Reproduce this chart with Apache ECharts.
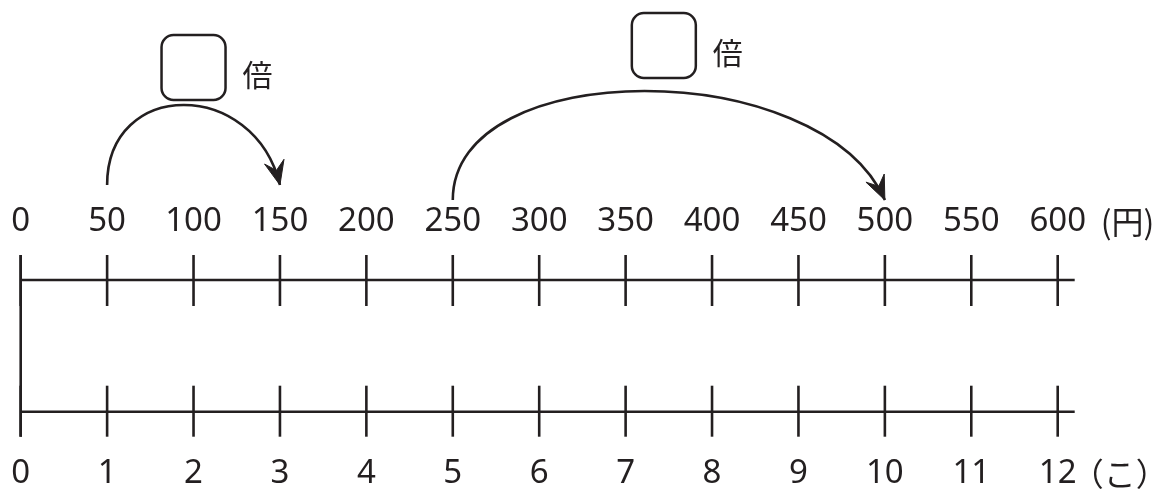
<!DOCTYPE html>
<html><head><meta charset="utf-8">
<script src="https://cdn.jsdelivr.net/npm/echarts@6/dist/echarts.min.js"></script>
<style>html,body{margin:0;padding:0;background:#fff}#c{width:1163px;height:489px}</style>
</head><body><div id="c"></div>
<script>
// ---- data ----
const countTicks = [0,1,2,3,4,5,6,7,8,9,10,11,12];
const yenLabels = ['0','50','100','150','200','250','300','350','400','450','500','550','600'];
const countLabels = ['0','1','2','3','4','5','6','7','8','9','10','11','12'];
const yenUnit = '(円)';
const countUnit = '（こ）';
const arrowFrom = [1, 5];
const arrowTo = [3, 10];
const boxSuffix = '倍';

// ---- style / layout ----
const ink = '#231f20';
const lw = 2.6;
const numFont = '33px "Noto Sans", sans-serif';
const cjkFont = '30px "Noto Sans CJK JP", sans-serif';
const arcLayout = [
  {startOff: 95, height: 80, boxTop: 245, boxDx: 0},
  {startOff: 80, height: 109, boxTop: 267, boxDx: -5}
];

const chart = echarts.init(document.getElementById('c'), null, {renderer: 'canvas'});
const xMax = countTicks[countTicks.length - 1];

chart.setOption({
  animation: false,
  backgroundColor: '#fff',
  grid: {left: 20.7, right: 105.3, top: 280, bottom: 77.3},
  xAxis: {type: 'value', min: 0, max: xMax, show: false},
  yAxis: {type: 'value', min: 0, max: 1, show: false},
  series: [
    {
      type: 'custom', silent: true,
      data: [[0, 1], [0, 0]],
      renderItem(params, api) {
        const y = api.value(1);
        const a = api.coord([0, y]);
        const b = api.coord([xMax, y]);
        return {type: 'line', shape: {x1: a[0], y1: a[1], x2: b[0] + 17, y2: b[1]},
          style: {stroke: ink, lineWidth: lw}};
      }
    },
    {
      type: 'custom', silent: true,
      data: [[0]],
      renderItem(params, api) {
        const a = api.coord([api.value(0), 1]);
        const b = api.coord([api.value(0), 0]);
        return {type: 'line', shape: {x1: a[0], y1: a[1] - 25, x2: b[0], y2: b[1] + 25},
          style: {stroke: ink, lineWidth: lw}};
      }
    },
    {
      type: 'custom', silent: true,
      data: countTicks.map(t => [t]),
      renderItem(params, api) {
        const x = api.value(0);
        const i = params.dataIndex;
        const t = api.coord([x, 1]);
        const b = api.coord([x, 0]);
        const children = [
          {type: 'line', shape: {x1: t[0], y1: t[1] - 25, x2: t[0], y2: t[1] + 26}, style: {stroke: ink, lineWidth: lw}},
          {type: 'line', shape: {x1: b[0], y1: b[1] - 26, x2: b[0], y2: b[1] + 25}, style: {stroke: ink, lineWidth: lw}},
          {type: 'text', x: t[0], y: t[1] - 58, style: {text: yenLabels[i], font: numFont, fill: ink, align: 'center', verticalAlign: 'middle'}},
          {type: 'text', x: b[0], y: b[1] + 62, style: {text: countLabels[i], font: numFont, fill: ink, align: 'center', verticalAlign: 'middle'}}
        ];
        if (i === countTicks.length - 1) {
          children.push({type: 'text', x: t[0] + 43, y: t[1] - 58, style: {text: yenUnit, font: '32px "Noto Sans CJK JP", sans-serif', fill: ink, align: 'left', verticalAlign: 'middle'}});
          children.push({type: 'text', x: b[0] + 14, y: b[1] + 62, style: {text: countUnit, font: '32px "Noto Sans CJK JP", sans-serif', fill: ink, align: 'left', verticalAlign: 'middle'}});
        }
        return {type: 'group', children};
      }
    },
    {
      type: 'custom', silent: true,
      data: arrowFrom.map((f, i) => [f, arrowTo[i]]),
      renderItem(params, api) {
        const L = arcLayout[params.dataIndex];
        const p0 = api.coord([api.value(0), 1]);
        const p1 = api.coord([api.value(1), 1]);
        const base = p0[1];
        const x0 = p0[0], x1 = p1[0];
        const w = x1 - x0;
        const y0 = base - L.startOff;
        const h = L.height;
        const c1x = x0, c1y = y0 - 4 / 3 * h;
        const c2x = x1 - 0.15 * w, c2y = y0 - 4 / 3 * h;
        // arrow direction at end
        let dx = x1 - c2x, dy = y0 - c2y;
        const dl = Math.hypot(dx, dy); dx /= dl; dy /= dl;
        const px = -dy, py = dx;
        const tipX = x1, tipY = y0;
        const len = 24, half = 10, notch = 15;
        const bx = tipX - dx * len, by = tipY - dy * len;
        const nx = tipX - dx * notch, ny = tipY - dy * notch;
        const ex = tipX - dx * 10, ey = tipY - dy * 10;
        // bezier endpoint trimmed slightly: draw full curve (tip covered by head)
        const path = `M${x0} ${y0} C${c1x} ${c1y} ${c2x} ${c2y} ${x1} ${y0}`;
        const mid = (x0 + x1) / 2 + L.boxDx;
        const boxTop = base - L.boxTop;
        const bs = 64;
        return {type: 'group', children: [
          {type: 'path', shape: {pathData: path}, style: {stroke: ink, lineWidth: lw, fill: null}},
          {type: 'polygon', shape: {points: [[tipX, tipY], [bx + px * half, by + py * half], [nx, ny], [bx - px * half, by - py * half]]},
            style: {fill: ink, stroke: ink, lineWidth: 1}},
          {type: 'rect', shape: {x: mid - bs / 2, y: boxTop, width: bs, height: bs + 1, r: 12},
            style: {fill: '#fff', stroke: ink, lineWidth: 2.5}},
          {type: 'text', x: mid + bs / 2 + 17, y: boxTop + bs / 2 + 8,
            style: {text: boxSuffix, font: cjkFont, fill: ink, align: 'left', verticalAlign: 'middle'}}
        ]};
      }
    }
  ]
});
</script>
</body></html>
